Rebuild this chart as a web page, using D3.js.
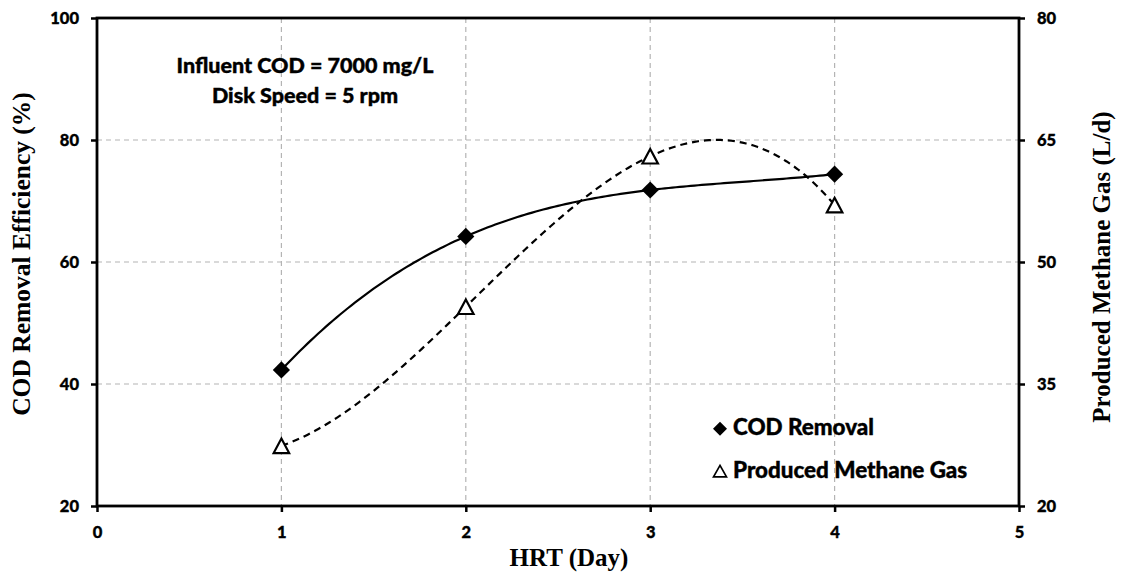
<!DOCTYPE html>
<html><head><meta charset="utf-8">
<script src="https://cdn.jsdelivr.net/npm/d3@7"></script>
<style>body{margin:0;background:#fff} svg{display:block}</style>
</head><body><svg id="c" width="1125" height="573"></svg>
<script>
// ---- data ----
const hrt = [1, 2, 3, 4];
const codRemoval = [42.3, 64.2, 71.8, 74.4];      // %
const methaneGas = [27.4, 44.5, 63.0, 57.0];      // L/d
const xTicks = [0, 1, 2, 3, 4, 5];
const yLeftTicks = [20, 40, 60, 80, 100];
const yRightTicks = [20, 35, 50, 65, 80];
const annotationLines = ["Influent COD = 7000 mg/L", "Disk Speed = 5 rpm"];
const legendLabels = ["COD Removal", "Produced Methane Gas"];
const xTitle = "HRT (Day)";
const yLeftTitle = "COD Removal Efficiency (%)";
const yRightTitle = "Produced Methane Gas (L/d)";
const trendOrder = 3;

// ---- layout ----
const svg = d3.select("#c");
const P = {l: 97, r: 1019, t: 18, b: 506};
const x = d3.scaleLinear().domain([0, 5]).range([P.l, P.r]);
const yL = d3.scaleLinear().domain([20, 100]).range([P.b, P.t]);
const yR = d3.scaleLinear().domain([20, 80]).range([P.b, P.t]);
const tickFont = "Lato, 'Open Sans', sans-serif";
const titleFont = "'Liberation Serif', 'Times New Roman', serif";

// polynomial least-squares trendline (as in the spreadsheet chart)
function polyFit(xs, ys, order) {
  const n = order + 1;
  const A = Array.from({length: n}, () => new Array(n + 1).fill(0));
  for (let r = 0; r < n; r++) {
    for (let c = 0; c < n; c++) A[r][c] = d3.sum(xs, v => Math.pow(v, r + c));
    A[r][n] = d3.sum(xs, (v, i) => ys[i] * Math.pow(v, r));
  }
  for (let i = 0; i < n; i++) {
    let p = i;
    for (let k = i + 1; k < n; k++) if (Math.abs(A[k][i]) > Math.abs(A[p][i])) p = k;
    [A[i], A[p]] = [A[p], A[i]];
    for (let k = 0; k < n; k++) {
      if (k === i) continue;
      const f = A[k][i] / A[i][i];
      for (let c = i; c <= n; c++) A[k][c] -= f * A[i][c];
    }
  }
  const coef = A.map((row, i) => row[n] / row[i]);
  return v => coef.reduce((s, c, i) => s + c * Math.pow(v, i), 0);
}

// ---- gridlines ----
const grid = svg.append("g").attr("stroke", "#b4b4b4").attr("stroke-width", 1.2)
  .attr("stroke-dasharray", "5,4").attr("fill", "none");
grid.selectAll("line.h").data(yLeftTicks.filter(d => d > 20 && d < 100)).join("line")
  .attr("x1", P.l).attr("x2", P.r).attr("y1", d => yL(d)).attr("y2", d => yL(d));
grid.selectAll("line.v").data(xTicks.filter(d => d > 0 && d < 5)).join("line")
  .attr("y1", P.t).attr("y2", P.b).attr("x1", d => x(d)).attr("x2", d => x(d));

// ---- axes ----
function styleAxis(g) {
  g.select(".domain").remove();
  g.selectAll(".tick line").attr("stroke", "#000").attr("stroke-width", 2.5);
  g.selectAll(".tick text").attr("fill", "#000").attr("font-family", tickFont)
    .attr("font-weight", 900).attr("font-size", 16.5)
    .attr("stroke", "#000").attr("stroke-width", 0.35);
}
svg.append("g").attr("transform", `translate(${P.l},0)`)
  .call(d3.axisLeft(yL).tickValues(yLeftTicks).tickSize(6).tickPadding(12).tickFormat(d3.format("d")))
  .call(styleAxis);
svg.append("g").attr("transform", `translate(${P.r},0)`)
  .call(d3.axisRight(yR).tickValues(yRightTicks).tickSize(6).tickPadding(12).tickFormat(d3.format("d")))
  .call(styleAxis);
svg.append("g").attr("transform", `translate(0,${P.b})`)
  .call(d3.axisBottom(x).tickValues(xTicks).tickSize(6).tickPadding(14).tickFormat(d3.format("d")))
  .call(styleAxis);

// frame
svg.append("rect").attr("x", P.l).attr("y", P.t).attr("width", P.r - P.l).attr("height", P.b - P.t)
  .attr("fill", "none").attr("stroke", "#000").attr("stroke-width", 2.8);

// ---- trendlines ----
const samples = d3.range(hrt[0], hrt[hrt.length - 1] + 0.0001, 0.02);
const codFit = polyFit(hrt, codRemoval, trendOrder);
const gasFit = polyFit(hrt, methaneGas, trendOrder);
svg.append("path").datum(samples)
  .attr("d", d3.line().x(d => x(d)).y(d => yR(gasFit(d))))
  .attr("fill", "none").attr("stroke", "#000").attr("stroke-width", 2.2).attr("stroke-dasharray", "7,5");
svg.append("path").datum(samples)
  .attr("d", d3.line().x(d => x(d)).y(d => yL(codFit(d))))
  .attr("fill", "none").attr("stroke", "#000").attr("stroke-width", 2.2);

// ---- markers ----
function diamondPath(r) {
  const p = d3.path();
  p.moveTo(0, -r); p.lineTo(r, 0); p.lineTo(0, r); p.lineTo(-r, 0); p.closePath();
  return p.toString();
}
function trianglePath(w, h) {
  const p = d3.path();
  p.moveTo(0, -h / 2); p.lineTo(w / 2, h / 2); p.lineTo(-w / 2, h / 2); p.closePath();
  return p.toString();
}
svg.append("g").selectAll("path").data(hrt).join("path")
  .attr("transform", (d, i) => `translate(${x(d)},${yR(methaneGas[i])})`)
  .attr("d", trianglePath(15.5, 14.5)).attr("fill", "#fff").attr("stroke", "#000").attr("stroke-width", 2.2);
svg.append("g").selectAll("path").data(hrt).join("path")
  .attr("transform", (d, i) => `translate(${x(d)},${yL(codRemoval[i])})`)
  .attr("d", diamondPath(8.6)).attr("fill", "#000");

// ---- annotation ----
svg.append("g").selectAll("text").data(annotationLines).join("text")
  .attr("x", 305).attr("y", (d, i) => 73 + i * 30)
  .attr("text-anchor", "middle").attr("font-family", tickFont).attr("font-weight", 900)
  .attr("font-size", 21.5).attr("fill", "#000").attr("stroke", "#000").attr("stroke-width", 0.4)
  .text(d => d);

// ---- legend ----
const leg = svg.append("g");
leg.append("path").attr("transform", "translate(720,428.7)").attr("d", diamondPath(7)).attr("fill", "#000");
leg.append("path").attr("transform", "translate(720,471.2)").attr("d", trianglePath(13, 11.5))
  .attr("fill", "#fff").attr("stroke", "#000").attr("stroke-width", 1.7);
leg.selectAll("text").data(legendLabels).join("text")
  .attr("x", 733).attr("y", (d, i) => 435 + i * 42.5)
  .attr("font-family", tickFont).attr("font-weight", 900).attr("font-size", 22.4)
  .attr("fill", "#000").attr("stroke", "#000").attr("stroke-width", 0.4).text(d => d);

// ---- axis titles ----
svg.append("text").attr("x", 569).attr("y", 566).attr("text-anchor", "middle")
  .attr("font-family", titleFont).attr("font-weight", "bold").attr("font-size", 25).text(xTitle);
svg.append("text").attr("transform", "translate(30,254) rotate(-90)").attr("text-anchor", "middle")
  .attr("font-family", titleFont).attr("font-weight", "bold").attr("font-size", 25.5).text(yLeftTitle);
svg.append("text").attr("transform", "translate(1110,267) rotate(-90)").attr("text-anchor", "middle")
  .attr("font-family", titleFont).attr("font-weight", "bold").attr("font-size", 25).text(yRightTitle);
</script>
</body></html>
